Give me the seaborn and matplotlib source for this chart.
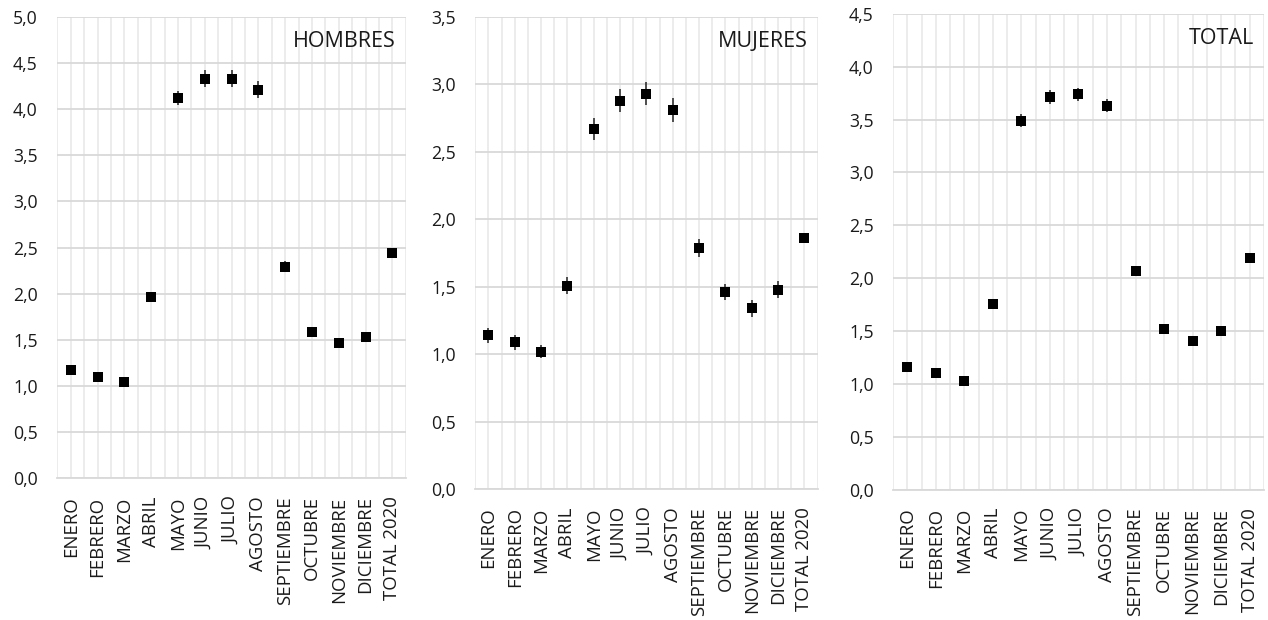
import numpy as np
import pandas as pd
import matplotlib
matplotlib.use("Agg")
import matplotlib.pyplot as plt
import seaborn as sns
from matplotlib.ticker import MultipleLocator, FuncFormatter

# Data
meses = ["ENERO", "FEBRERO", "MARZO", "ABRIL", "MAYO", "JUNIO", "JULIO",
         "AGOSTO", "SEPTIEMBRE", "OCTUBRE", "NOVIEMBRE", "DICIEMBRE", "TOTAL 2020"]

hombres = [1.17, 1.10, 1.04, 1.96, 4.12, 4.33, 4.33, 4.21, 2.29, 1.58, 1.47, 1.53, 2.44]
hombres_err = [0.03, 0.03, 0.03, 0.04, 0.08, 0.09, 0.09, 0.09, 0.06, 0.04, 0.04, 0.04, 0.02]

mujeres = [1.14, 1.09, 1.02, 1.51, 2.67, 2.88, 2.93, 2.81, 1.79, 1.46, 1.34, 1.48, 1.86]
mujeres_err = [0.055, 0.055, 0.05, 0.062, 0.08, 0.087, 0.085, 0.087, 0.067, 0.06, 0.062, 0.062, 0.025]

total = [1.16, 1.10, 1.03, 1.76, 3.49, 3.71, 3.74, 3.63, 2.07, 1.52, 1.41, 1.50, 2.19]
total_err = [0.03, 0.03, 0.03, 0.03, 0.06, 0.066, 0.063, 0.063, 0.03, 0.03, 0.03, 0.03, 0.02]

paneles = [
    ("HOMBRES", hombres, hombres_err, 5.0, [0.0452, 0.2285, 0.2748, 0.7444]),
    ("MUJERES", mujeres, mujeres_err, 3.5, [0.3748, 0.2108, 0.2700, 0.7619]),
    ("TOTAL", total, total_err, 4.5, [0.7043, 0.2103, 0.2925, 0.7674]),
]

sns.set_style("white")
plt.rcParams['font.family'] = ['Open Sans', 'DejaVu Sans']

fig = plt.figure(figsize=(12.68, 6.2), dpi=100)

coma = FuncFormatter(lambda v, p: f"{v:.1f}".replace(".", ","))

for nombre, vals, errs, ymax, pos in paneles:
    ax = fig.add_axes(pos)
    df = pd.DataFrame({"mes": meses, "valor": vals, "err": errs})

    ax.errorbar(np.arange(len(meses)), df["valor"], yerr=df["err"], fmt="none",
                ecolor="#222222", elinewidth=1.1, capsize=0, zorder=3)
    sns.scatterplot(data=df, x="mes", y="valor", marker="s", s=62, color="black",
                    linewidth=0, ax=ax, zorder=4)

    ax.set_xlim(-0.5, len(meses) - 0.5)
    ax.set_ylim(0, ymax)
    ax.yaxis.set_major_locator(MultipleLocator(0.5))
    ax.yaxis.set_major_formatter(coma)
    ax.set_xticks(np.arange(len(meses)))
    ax.set_xticklabels(meses, rotation=90)
    ax.set_xticks(np.arange(-0.5, len(meses), 1), minor=True)

    ax.grid(axis="y", which="major", color="#d9d9d9", linewidth=1.3)
    ax.grid(axis="x", which="both", color="#ebebeb", linewidth=1.3)
    ax.set_axisbelow(True)

    ax.tick_params(axis="both", which="both", length=0, colors="#1a1a1a")
    ax.tick_params(axis="y", labelsize=12.7, pad=14)
    ax.tick_params(axis="x", labelsize=13.4, pad=13)
    for s in ["top", "right", "left"]:
        ax.spines[s].set_visible(False)
    ax.spines["bottom"].set_color("#d9d9d9")
    ax.spines["bottom"].set_linewidth(1.3)

    ax.set_xlabel("")
    ax.set_ylabel("")

    ax.annotate(nombre, xy=(1, 1), xycoords="axes fraction", xytext=(-7, -10),
                textcoords="offset points", ha="right", va="top",
                fontsize=15.5, color="#1a1a1a")

plt.savefig("out.png", dpi=100)
